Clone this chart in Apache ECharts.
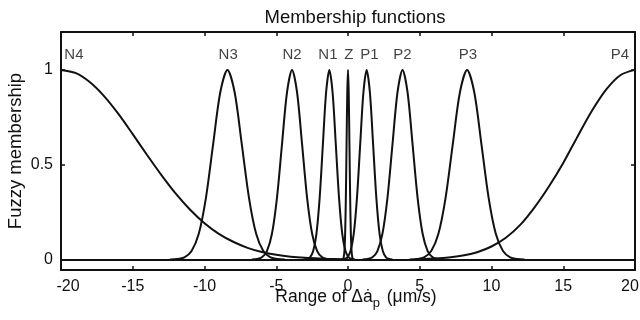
<!DOCTYPE html>
<html>
<head>
<meta charset="utf-8">
<script src="https://cdn.jsdelivr.net/npm/echarts@6/dist/echarts.min.js"></script>
<style>
  html, body { margin: 0; padding: 0; background: #fff; }
  #chart { width: 640px; height: 320px; }
</style>
</head>
<body>
<div id="chart"></div>
<script>
// membership curves, [x, membership]
const curveN4 = [[-20, 1], [-19, 0.984], [-18, 0.936], [-17, 0.862], [-16, 0.768], [-15, 0.661], [-14, 0.551],
  [-13, 0.445], [-12, 0.347], [-11, 0.262], [-10, 0.191], [-9, 0.135], [-8, 0.093], [-7, 0.061], [-6, 0.039],
  [-5, 0.024], [-4, 0.014], [-3, 0.008], [-2, 0.005], [-1, 0.002], [0, 0.001]];
const curveN3 = [[-12.4, 0], [-11.9, 0.002], [-11.4, 0.011], [-10.9, 0.044], [-10.4, 0.135], [-9.9, 0.325],
  [-9.4, 0.607], [-8.9, 0.882], [-8.4, 1], [-7.9, 0.882], [-7.4, 0.607], [-6.9, 0.325], [-6.4, 0.135],
  [-5.9, 0.044], [-5.4, 0.011], [-4.9, 0.002], [-4.4, 0]];
const curveN2 = [[-6.7, 0], [-6.35, 0.002], [-6.0, 0.011], [-5.65, 0.044], [-5.3, 0.135], [-4.95, 0.325],
  [-4.6, 0.607], [-4.25, 0.882], [-3.9, 1], [-3.55, 0.882], [-3.2, 0.607], [-2.85, 0.325], [-2.5, 0.135],
  [-2.15, 0.044], [-1.8, 0.011], [-1.45, 0.002], [-1.1, 0]];
const curveN1 = [[-3.1, 0], [-2.875, 0.002], [-2.65, 0.011], [-2.425, 0.044], [-2.2, 0.135], [-1.975, 0.325],
  [-1.75, 0.607], [-1.525, 0.882], [-1.3, 1], [-1.075, 0.882], [-0.85, 0.607], [-0.625, 0.325], [-0.4, 0.135],
  [-0.175, 0.044], [0.05, 0.011], [0.275, 0.002], [0.5, 0]];
const curveZ = [[-0.4, 0], [-0.35, 0.002], [-0.3, 0.011], [-0.25, 0.044], [-0.2, 0.135], [-0.15, 0.325],
  [-0.1, 0.607], [-0.05, 0.882], [0, 1], [0.05, 0.882], [0.1, 0.607], [0.15, 0.325], [0.2, 0.135],
  [0.25, 0.044], [0.3, 0.011], [0.35, 0.002], [0.4, 0]];
const curveP1 = [[-0.5, 0], [-0.275, 0.002], [-0.05, 0.011], [0.175, 0.044], [0.4, 0.135], [0.625, 0.325],
  [0.85, 0.607], [1.075, 0.882], [1.3, 1], [1.525, 0.882], [1.75, 0.607], [1.975, 0.325], [2.2, 0.135],
  [2.425, 0.044], [2.65, 0.011], [2.875, 0.002], [3.1, 0]];
const curveP2 = [[1.0, 0], [1.35, 0.002], [1.7, 0.011], [2.05, 0.044], [2.4, 0.135], [2.75, 0.325],
  [3.1, 0.607], [3.45, 0.882], [3.8, 1], [4.15, 0.882], [4.5, 0.607], [4.85, 0.325], [5.2, 0.135],
  [5.55, 0.044], [5.9, 0.011], [6.25, 0.002], [6.6, 0]];
const curveP3 = [[4.3, 0], [4.8, 0.002], [5.3, 0.011], [5.8, 0.044], [6.3, 0.135], [6.8, 0.325],
  [7.3, 0.607], [7.8, 0.882], [8.3, 1], [8.8, 0.882], [9.3, 0.607], [9.8, 0.325], [10.3, 0.135],
  [10.8, 0.044], [11.3, 0.011], [11.8, 0.002], [12.3, 0]];
const curveP4 = [[5, 0.002], [6, 0.005], [7, 0.01], [8, 0.02], [9, 0.038], [10, 0.068], [11, 0.114],
  [12, 0.182], [13, 0.275], [14, 0.385], [15, 0.509], [16, 0.649], [17, 0.784], [18, 0.897], [19, 0.973], [20, 1]];

const curves = [curveN4, curveN3, curveN2, curveN1, curveZ, curveP1, curveP2, curveP3, curveP4];
const setNames = ['N4', 'N3', 'N2', 'N1', 'Z', 'P1', 'P2', 'P3', 'P4'];
const setLabelX = [-19.1, -8.35, -3.9, -1.4, 0.05, 1.5, 3.8, 8.35, 18.95];
const setLabelY = 1.077;
const yTicks = [0, 0.5, 1];

const font = 'Liberation Sans, Arial, sans-serif';
const ink = '#111';

const chart = echarts.init(document.getElementById('chart'));

const lineSeries = curves.map((pts, i) => ({
  name: setNames[i],
  type: 'line',
  data: pts,
  smooth: 0.3,
  symbol: 'none',
  lineStyle: { color: ink, width: 2 },
  z: 3
}));

// baseline at zero, all tails overlap there in the original
lineSeries[0].markLine = {
  silent: true,
  symbol: 'none',
  label: { show: false },
  lineStyle: { color: ink, width: 2, type: 'solid' },
  data: [{ yAxis: 0 }]
};

const tickFont = { fontFamily: font, fontSize: 16, color: ink };

const option = {
  animation: false,
  backgroundColor: '#fff',
  title: {
    text: 'Membership functions',
    left: 350,
    top: 3,
    textAlign: 'center',
    textStyle: { fontFamily: font, fontSize: 18.5, fontWeight: 'normal', color: ink }
  },
  grid: { left: 61, right: 5, top: 32, bottom: 50, outerBoundsMode: 'none' },
  xAxis: [
    {
      type: 'value',
      min: -20,
      max: 20,
      interval: 5,
      name: '{t|Range of Δ}{t|ȧ}{s|p}{t| (μm/s)}',
      nameLocation: 'middle',
      nameGap: 18,
      nameMoveOverlap: false,
      nameTextStyle: {
        padding: [0, 0, 0, 16],
        rich: {
          t: { fontFamily: font, fontSize: 17.5, color: ink, lineHeight: 22, verticalAlign: 'top' },
          s: { fontFamily: font, fontSize: 13, color: ink, lineHeight: 13, verticalAlign: 'bottom', padding: [0, 2, 0, 0] }
        }
      },
      axisLine: { onZero: false, lineStyle: { color: ink, width: 2 } },
      axisTick: { inside: true, length: 4, lineStyle: { color: ink, width: 1.5 } },
      axisLabel: {
        margin: 9,
        ...tickFont,
        // end labels sit inward of their ticks in the original
        formatter: v => (v === -20 ? '{lo|-20}' : v === 20 ? '{hi|20}' : String(v)),
        rich: {
          lo: { ...tickFont, padding: [0, 0, 0, 14] },
          hi: { ...tickFont, padding: [0, 10, 0, 0] }
        }
      },
      splitLine: { show: false }
    },
    {
      type: 'value',
      position: 'top',
      min: -20,
      max: 20,
      interval: 5,
      axisLine: { onZero: false, lineStyle: { color: ink, width: 2 } },
      axisTick: { inside: true, length: 4, lineStyle: { color: ink, width: 1.5 } },
      axisLabel: { show: false },
      splitLine: { show: false }
    }
  ],
  yAxis: [
    {
      type: 'value',
      min: -0.056,
      max: 1.2,
      name: 'Fuzzy membership',
      nameLocation: 'middle',
      nameGap: 36,
      nameMoveOverlap: false,
      nameTextStyle: { fontFamily: font, fontSize: 18.5, color: ink },
      axisLine: { onZero: false, lineStyle: { color: ink, width: 2 } },
      axisTick: { inside: true, length: 4, customValues: yTicks, lineStyle: { color: ink, width: 1.5 } },
      axisLabel: { margin: 8, customValues: yTicks, ...tickFont },
      splitLine: { show: false }
    },
    {
      type: 'value',
      position: 'right',
      min: -0.056,
      max: 1.2,
      axisLine: { onZero: false, lineStyle: { color: ink, width: 2 } },
      axisTick: { inside: true, length: 4, customValues: yTicks, lineStyle: { color: ink, width: 1.5 } },
      axisLabel: { show: false },
      splitLine: { show: false }
    }
  ],
  series: [
    ...lineSeries,
    {
      name: 'labels',
      type: 'scatter',
      symbolSize: 0,
      silent: true,
      data: setNames.map((n, i) => ({ name: n, value: [setLabelX[i], setLabelY] })),
      label: {
        show: true,
        position: 'inside',
        formatter: p => p.name,
        fontFamily: font,
        fontSize: 15,
        color: ink
      },
      z: 5
    }
  ]
};

chart.setOption(option);
</script>
</body>
</html>
